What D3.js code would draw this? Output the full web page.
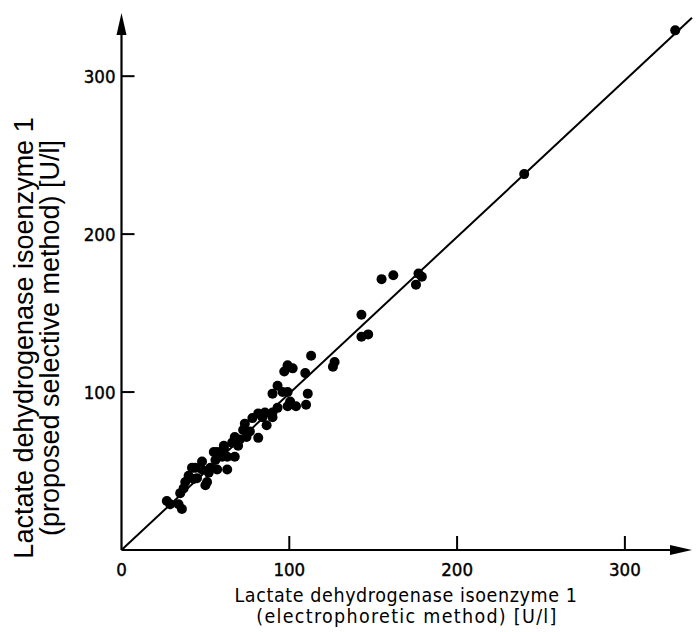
<!DOCTYPE html>
<html>
<head>
<meta charset="utf-8">
<script src="https://cdn.jsdelivr.net/npm/d3@7"></script>
<style>
  body { margin: 0; background: #fff; }
  svg { display: block; }
</style>
</head>
<body>
<svg id="svg" width="700" height="632"></svg>
<script>
// electrophoretic method (x) vs proposed selective method (y), U/l
var electro = [27,29,36,34,35,37,38,40,42,43,44,45,48,48,50,51,52,53,57,63,
               57,55,56,60,63,61,67.5,61,66,69.5,70.5,67.5,74.5,72.5,76.5,81.5,73.5,78,84,86.5,
               85.5,90,90,81.5,90,93,96,99,111,100.5,99,104,110,93,97,99,102,109.5,113,126,
               127,143,143,147,155,162,177,179,175.5,240,330];
var selective = [31,29,26,29,36,39,43,47,52,45,52,45.5,56,51,41,43,49,52,51,51,
                 62,62,57,59,59,66,59,64.5,68,66,70,71.5,71.5,76,75,71,80,83.5,84,79,
                 87,87,84,86.5,99,104,100,100,99,94,91,91,92,90,113,117,115,112,123,116,
                 119,149,135,136.5,171.5,174,175,173,168,238,329];
var xTicks = [0, 100, 200, 300];
var yTicks = [100, 200, 300];
var fitLine = [[0, 0], [340, 337]];

var cont = d3.select("svg");
var x = d3.scaleLinear().domain([0, 340]).range([121.5, 692]);
var y = d3.scaleLinear().domain([0, 340]).range([550, 13]);

// axes
cont.append("line")
  .attr("x1", x(0)).attr("y1", y(0))
  .attr("x2", x(340) - 18).attr("y2", y(0))
  .attr("stroke", "#000").attr("stroke-width", 2.2);
cont.append("line")
  .attr("x1", x(0)).attr("y1", y(0))
  .attr("x2", x(0)).attr("y2", y(340) + 18)
  .attr("stroke", "#000").attr("stroke-width", 2.2);

// arrow heads
cont.append("path")
  .attr("d", d3.line()([[x(340), y(0)], [x(340) - 22, y(0) - 5], [x(340) - 22, y(0) + 5]]) + "Z")
  .attr("fill", "#000");
cont.append("path")
  .attr("d", d3.line()([[x(0), y(340)], [x(0) - 5, y(340) + 22], [x(0) + 5, y(340) + 22]]) + "Z")
  .attr("fill", "#000");

// ticks
cont.selectAll("line.xt").data(xTicks.slice(1)).enter().append("line")
  .attr("class", "xt")
  .attr("x1", function(d) { return x(d); }).attr("x2", function(d) { return x(d); })
  .attr("y1", y(0)).attr("y2", y(0) - 14)
  .attr("stroke", "#000").attr("stroke-width", 2);
cont.selectAll("line.yt").data(yTicks).enter().append("line")
  .attr("class", "yt")
  .attr("y1", function(d) { return y(d); }).attr("y2", function(d) { return y(d); })
  .attr("x1", x(0)).attr("x2", x(0) + 13)
  .attr("stroke", "#000").attr("stroke-width", 2);

// tick labels
cont.selectAll("text.xl").data(xTicks).enter().append("text")
  .attr("class", "xl")
  .attr("x", function(d) { return x(d); })
  .attr("y", y(0) + 26)
  .attr("text-anchor", "middle")
  .attr("font-family", "DejaVu Sans Condensed")
  .attr("font-size", 18.5)
  .attr("stroke", "#000").attr("stroke-width", 0.4)
  .text(function(d) { return d; });
cont.selectAll("text.yl").data(yTicks).enter().append("text")
  .attr("class", "yl")
  .attr("x", x(0) - 6)
  .attr("y", function(d) { return y(d) + 7; })
  .attr("text-anchor", "end")
  .attr("font-family", "DejaVu Sans Condensed")
  .attr("font-size", 18.5)
  .attr("stroke", "#000").attr("stroke-width", 0.4)
  .text(function(d) { return d; });

// regression line
cont.append("line")
  .attr("x1", x(fitLine[0][0])).attr("y1", y(fitLine[0][1]))
  .attr("x2", x(fitLine[1][0])).attr("y2", y(fitLine[1][1]))
  .attr("stroke", "#000").attr("stroke-width", 2);

// points
cont.selectAll("circle").data(electro).enter().append("circle")
  .attr("cx", function(d) { return x(d); })
  .attr("cy", function(d, i) { return y(selective[i]); })
  .attr("r", 5)
  .attr("fill", "#000");

// axis titles
var xt = cont.append("text")
  .attr("text-anchor", "middle")
  .attr("font-family", "DejaVu Sans Condensed")
  .attr("font-size", 19.5);
xt.append("tspan").attr("x", 406).attr("y", 602)
  .attr("letter-spacing", 0.6)
  .text("Lactate dehydrogenase  isoenzyme 1");
xt.append("tspan").attr("x", 407).attr("y", 623)
  .attr("letter-spacing", 1.3)
  .text("(electrophoretic method) [U/l]");

var yt = cont.append("text")
  .attr("text-anchor", "middle")
  .attr("transform", "translate(0,338) rotate(-90)")
  .attr("font-family", "Liberation Sans")
  .attr("font-size", 27);
yt.append("tspan").attr("x", 0).attr("y", 33).text("Lactate dehydrogenase isoenzyme 1");
yt.append("tspan").attr("x", 0).attr("y", 59).text("(proposed selective method) [U/l]");
</script>
</body>
</html>
